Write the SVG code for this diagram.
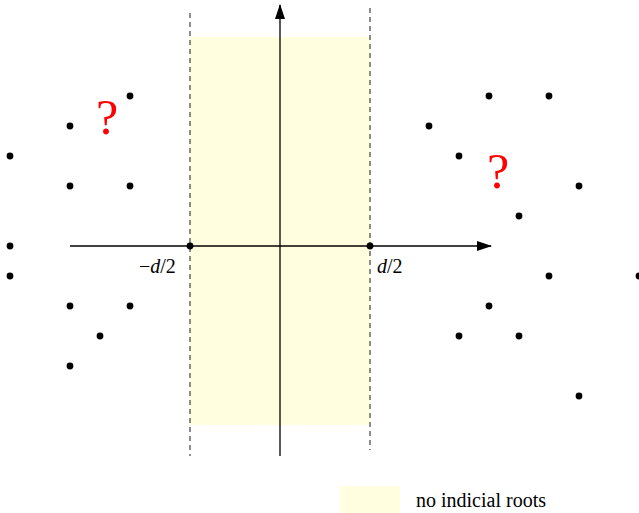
<svg xmlns="http://www.w3.org/2000/svg" width="639" height="513" viewBox="0 0 639 513">
<style>
.dot{fill:#000}
.ax{stroke:#000;stroke-width:1.3;fill:none}
.dash{stroke:#000;stroke-width:0.9;stroke-dasharray:5,4;fill:none}
.lbl{font-family:"Liberation Serif","DejaVu Serif",serif;font-size:20px;fill:#000}
.q{font-family:"Liberation Serif","DejaVu Serif",serif;font-size:50px;fill:#f00;font-weight:normal}
</style>
<defs>
<marker id="ah" markerWidth="15" markerHeight="10" refX="14" refY="5" orient="auto" markerUnits="userSpaceOnUse">
<path d="M0,0 L15,5 L0,10 Z" fill="#000"/>
</marker>
</defs>
<g id="strip"><rect x="190" y="37" width="180" height="388" fill="#ffffdf"/></g>
<g id="connectors">
<line class="ax" x1="70" y1="246" x2="491" y2="246" marker-end="url(#ah)"/>
<line class="ax" x1="280" y1="456" x2="280" y2="5" marker-end="url(#ah)"/>
<line class="dash" x1="190" y1="13" x2="190" y2="456"/>
<line class="dash" x1="370" y1="8" x2="370" y2="450"/>
</g>
<g id="points">
<circle class="dot" cx="190" cy="246" r="3.4"/>
<circle class="dot" cx="370" cy="246" r="3.4"/>
<circle class="dot" cx="10" cy="156" r="3.4"/>
<circle class="dot" cx="70" cy="126" r="3.4"/>
<circle class="dot" cx="130" cy="96" r="3.4"/>
<circle class="dot" cx="70" cy="186" r="3.4"/>
<circle class="dot" cx="130" cy="186" r="3.4"/>
<circle class="dot" cx="10" cy="246" r="3.4"/>
<circle class="dot" cx="10" cy="276" r="3.4"/>
<circle class="dot" cx="70" cy="306" r="3.4"/>
<circle class="dot" cx="130" cy="306" r="3.4"/>
<circle class="dot" cx="100" cy="336" r="3.4"/>
<circle class="dot" cx="70" cy="366" r="3.4"/>
<circle class="dot" cx="489" cy="96" r="3.4"/>
<circle class="dot" cx="549" cy="96" r="3.4"/>
<circle class="dot" cx="429" cy="126" r="3.4"/>
<circle class="dot" cx="459" cy="156" r="3.4"/>
<circle class="dot" cx="579" cy="186" r="3.4"/>
<circle class="dot" cx="519" cy="216" r="3.4"/>
<circle class="dot" cx="549" cy="276" r="3.4"/>
<circle class="dot" cx="639" cy="276" r="3.4"/>
<circle class="dot" cx="489" cy="306" r="3.4"/>
<circle class="dot" cx="459" cy="336" r="3.4"/>
<circle class="dot" cx="519" cy="336" r="3.4"/>
<circle class="dot" cx="579" cy="396" r="3.4"/>
</g>
<g id="labels">
<text class="lbl" x="139" y="273">−<tspan font-style="italic">d</tspan>/2</text>
<text class="lbl" x="377" y="273"><tspan font-style="italic">d</tspan>/2</text>
<text class="q" x="107" y="134" text-anchor="middle">?</text>
<text class="q" x="498" y="188" text-anchor="middle">?</text>
</g>
<g id="legend">
<rect x="340" y="486" width="60" height="27" fill="#ffffdf"/>
<text class="lbl" x="416" y="507">no indicial roots</text>
</g>
</svg>
